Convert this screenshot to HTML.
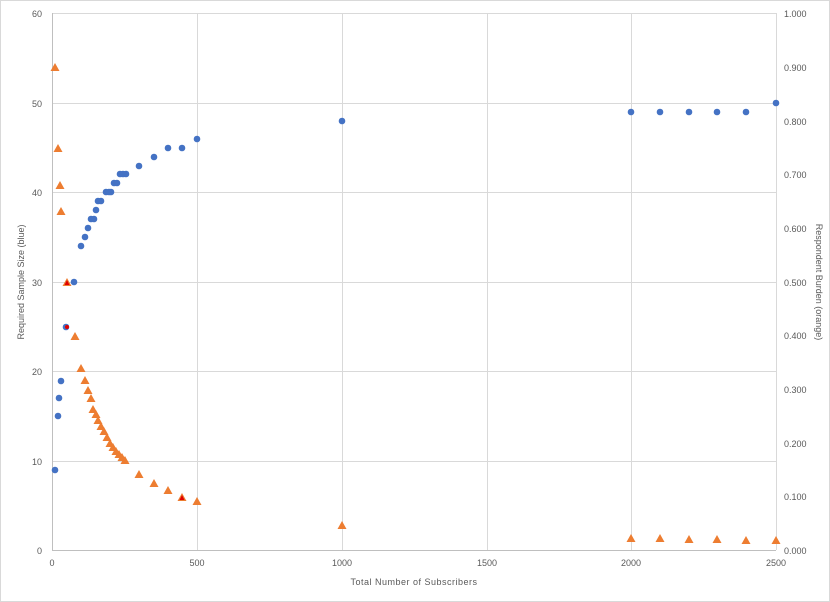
<!DOCTYPE html><html><head><style>body{margin:0;background:#fff}svg{display:block;font-family:"Liberation Sans",sans-serif}</style></head><body>
<svg width="830" height="602" xmlns="http://www.w3.org/2000/svg">
<rect x="0.5" y="0.5" width="829" height="601" fill="#fff" stroke="#d9d9d9"/>
<g stroke="#d9d9d9" stroke-width="1">
<line x1="52" y1="13.5" x2="776" y2="13.5"/><line x1="52" y1="103.5" x2="776" y2="103.5"/><line x1="52" y1="192.5" x2="776" y2="192.5"/><line x1="52" y1="282.5" x2="776" y2="282.5"/><line x1="52" y1="371.5" x2="776" y2="371.5"/><line x1="52" y1="461.5" x2="776" y2="461.5"/>
<line x1="197.5" y1="13" x2="197.5" y2="550"/><line x1="342.5" y1="13" x2="342.5" y2="550"/><line x1="487.5" y1="13" x2="487.5" y2="550"/><line x1="631.5" y1="13" x2="631.5" y2="550"/><line x1="776.5" y1="13" x2="776.5" y2="550"/>
</g>
<g stroke="#bfbfbf"><line x1="52.5" y1="13" x2="52.5" y2="550"/><line x1="52" y1="550.5" x2="776" y2="550.5"/></g>
<g font-size="9" fill="#595959" text-anchor="end">
<text x="42" y="17">60</text><text x="42" y="107">50</text><text x="42" y="196">40</text><text x="42" y="286">30</text><text x="42" y="375">20</text><text x="42" y="465">10</text><text x="42" y="554">0</text></g>
<g font-size="9" fill="#595959" text-anchor="start">
<text x="784" y="17">1.000</text><text x="784" y="71">0.900</text><text x="784" y="125">0.800</text><text x="784" y="178">0.700</text><text x="784" y="232">0.600</text><text x="784" y="286">0.500</text><text x="784" y="339">0.400</text><text x="784" y="393">0.300</text><text x="784" y="447">0.200</text><text x="784" y="500">0.100</text><text x="784" y="554">0.000</text></g>
<g font-size="9" fill="#595959" text-anchor="middle">
<text x="52" y="566">0</text><text x="197" y="566">500</text><text x="342" y="566">1000</text><text x="487" y="566">1500</text><text x="631" y="566">2000</text><text x="776" y="566">2500</text>
<text x="414" y="585" letter-spacing="0.5">Total Number of Subscribers</text>
<text transform="translate(24,282) rotate(-90)">Required Sample Size (blue)</text>
<text transform="translate(816,282) rotate(90)">Respondent Burden (orange)</text></g>
<g fill="#4472c4">
<circle cx="55" cy="470" r="3.3"/><circle cx="58" cy="416" r="3.3"/><circle cx="59" cy="398" r="3.3"/><circle cx="61" cy="381" r="3.3"/><circle cx="66" cy="327" r="3.3"/><circle cx="74" cy="282" r="3.3"/><circle cx="81" cy="246" r="3.3"/><circle cx="85" cy="237" r="3.3"/><circle cx="88" cy="228" r="3.3"/><circle cx="91" cy="219" r="3.3"/><circle cx="94" cy="219" r="3.3"/><circle cx="96" cy="210" r="3.3"/><circle cx="98" cy="201" r="3.3"/><circle cx="101" cy="201" r="3.3"/><circle cx="106" cy="192" r="3.3"/><circle cx="109" cy="192" r="3.3"/><circle cx="111" cy="192" r="3.3"/><circle cx="114" cy="183" r="3.3"/><circle cx="117" cy="183" r="3.3"/><circle cx="120" cy="174" r="3.3"/><circle cx="123" cy="174" r="3.3"/><circle cx="126" cy="174" r="3.3"/><circle cx="139" cy="166" r="3.3"/><circle cx="154" cy="157" r="3.3"/><circle cx="168" cy="148" r="3.3"/><circle cx="182" cy="148" r="3.3"/><circle cx="197" cy="139" r="3.3"/><circle cx="342" cy="121" r="3.3"/><circle cx="631" cy="112" r="3.3"/><circle cx="660" cy="112" r="3.3"/><circle cx="689" cy="112" r="3.3"/><circle cx="717" cy="112" r="3.3"/><circle cx="746" cy="112" r="3.3"/><circle cx="776" cy="103" r="3.3"/>
</g>
<circle cx="67" cy="327" r="2" fill="#e00000"/>
<g fill="#ed7d31" id="tri">
<script>/* none */</script>
</g>
<g fill="#ed7d31">
<path d="M55,63l-4.5,8h9z M58,144l-4.5,8h9z M60,181l-4.5,8h9z M61,207l-4.5,8h9z M67,278l-4.5,8h9z M75,332l-4.5,8h9z M81,364l-4.5,8h9z M85,376l-4.5,8h9z M88,386l-4.5,8h9z M91,394l-4.5,8h9z M93,405l-4.5,8h9z M96,410l-4.5,8h9z M98,416l-4.5,8h9z M101,422l-4.5,8h9z M104,427l-4.5,8h9z M107,433l-4.5,8h9z M110,439l-4.5,8h9z M113,443l-4.5,8h9z M116,447l-4.5,8h9z M119,450l-4.5,8h9z M122,453l-4.5,8h9z M125,456l-4.5,8h9z M139,470l-4.5,8h9z M154,479l-4.5,8h9z M168,486l-4.5,8h9z M182,493l-4.5,8h9z M197,497l-4.5,8h9z M342,521l-4.5,8h9z M631,534l-4.5,8h9z M660,534l-4.5,8h9z M689,535l-4.5,8h9z M717,535l-4.5,8h9z M746,536l-4.5,8h9z M776,536l-4.5,8h9z"/>
</g>
<path d="M67,280l-2.5,5h5z M182,495l-2.5,5h5z" fill="#e00000"/>
</svg></body></html>
